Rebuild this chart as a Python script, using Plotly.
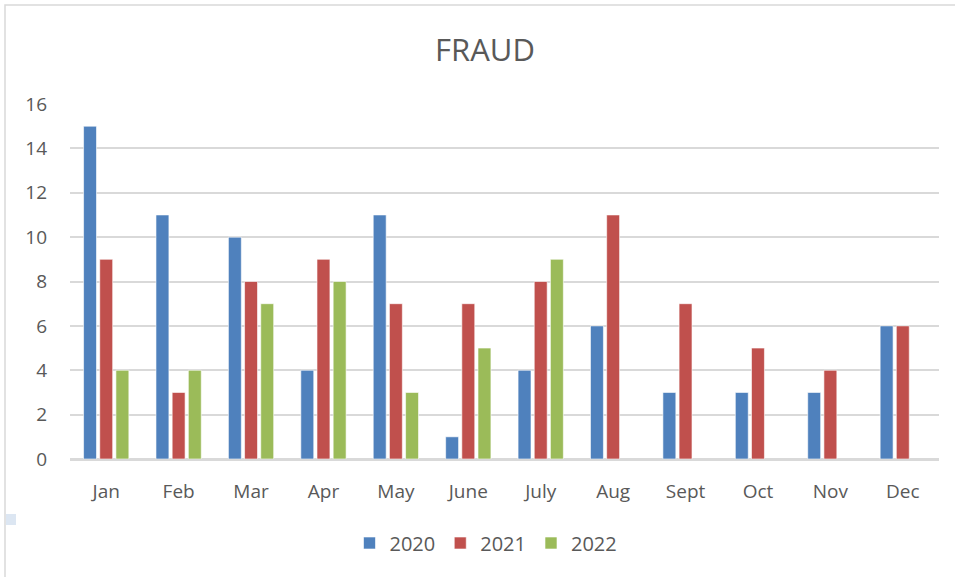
import plotly.graph_objects as go

months = ["Jan", "Feb", "Mar", "Apr", "May", "June", "July", "Aug", "Sept", "Oct", "Nov", "Dec"]
y2020 = [15, 11, 10, 4, 11, 1, 4, 6, 3, 3, 3, 6]
y2021 = [9, 3, 8, 9, 7, 7, 8, 11, 7, 5, 4, 6]
y2022 = [4, 4, 7, 8, 3, 5, 9, None, None, None, None, None]
series = [("2020", y2020, "#4F81BD"), ("2021", y2021, "#C0504D"), ("2022", y2022, "#9BBB59")]

FONT = "Open Sans, sans-serif"
fig = go.Figure()
for name, vals, col in series:
    fig.add_trace(go.Bar(x=months, y=vals, name=name, marker=dict(color=col, line=dict(color="white", width=0.6))))

L, R, T, B = 70, 939, 104, 459
W, H = R - L, B - T
def px(x): return (x - L) / W
def py(y): return (B - y) / H

fig.update_layout(
    width=955, height=577,
    margin=dict(l=L, r=955 - R, t=T, b=577 - B),
    paper_bgcolor="white", plot_bgcolor="white",
    barmode="group", bargap=0.33, bargroupgap=0.2,
    title=dict(text="FRAUD", xref="container", x=485 / 955, xanchor="center",
               yref="container", y=1 - 50 / 577, yanchor="middle",
               font=dict(family=FONT, size=31, color="#595959")),
    font=dict(family=FONT, color="#595959"),
    xaxis=dict(showgrid=False, showline=True, linecolor="#D9D9D9", linewidth=1.5,
               tickfont=dict(size=19, color="#595959"), ticks="", ticklabelstandoff=14),
    yaxis=dict(range=[0, 16], dtick=2, showgrid=True, gridcolor="#D9D9D9", gridwidth=1.5,
               zeroline=True, zerolinecolor="#D9D9D9", zerolinewidth=1.5, showline=False,
               tickfont=dict(size=19, color="#595959"), ticklabelstandoff=22),
    legend=dict(orientation="h", x=px(486), xanchor="center", y=py(543), yanchor="middle",
                font=dict(size=20, color="#595959"), itemwidth=30, tracegroupgap=0),
    shapes=[
        dict(type="rect", xref="paper", yref="paper", x0=px(5), x1=px(970), y0=py(600), y1=py(5),
             line=dict(color="#D9D9D9", width=1.5), fillcolor="rgba(0,0,0,0)", layer="below"),
        dict(type="rect", xref="paper", yref="paper", x0=px(6), x1=px(16), y0=py(525), y1=py(514),
             line=dict(width=0), fillcolor="#DCE6F2"),
    ],
)
fig.write_html("out.html", config={"displayModeBar": False},
               post_script="document.body.style.margin='0px';")
